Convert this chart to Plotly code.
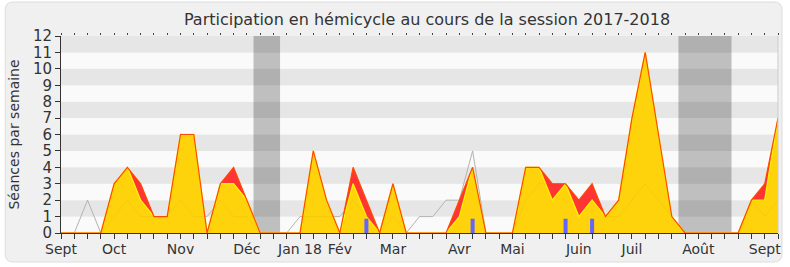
import plotly.graph_objects as go

# ---------------- data ----------------
weeks = list(range(55))
tick_weeks = [0, 4, 9, 14, 18, 21, 25, 30, 34, 39, 43, 48, 53]
tick_labels = ["Sept", "Oct", "Nov", "Déc", "Jan 18", "Fév", "Mar", "Avr", "Mai", "Juin", "Juil", "Août", "Sept"]

presences = [0, 0, 0, 0, 3, 4, 3, 1, 1, 6, 6, 0, 3, 4, 2, 0, 0, 0, 0, 5, 2, 0, 4, 2, 0, 3, 0, 0,
             0, 0, 2, 4, 0, 0, 0, 4, 4, 3, 3, 2, 3, 1, 2, 7, 11, 6, 1, 0, 0, 0, 0, 0, 2, 3, 7]
participations = [0, 0, 0, 0, 3, 4, 2, 1, 1, 6, 6, 0, 3, 3, 2, 0, 0, 0, 0, 5, 2, 0, 3, 1, 0, 3, 0, 0,
                   0, 0, 1, 4, 0, 0, 0, 4, 4, 2, 3, 1, 2, 1, 2, 7, 11, 6, 1, 0, 0, 0, 0, 0, 2, 2, 7]
mediane = [0, 0, 2, 0, 1, 2, 1, 1, 1, 2, 1, 1, 2, 1, 1, 0, 0, 0, 1, 1, 1, 1, 2, 1, 0, 1, 0, 1,
           1, 2, 2, 5, 0, 0, 0, 2, 3, 3, 3, 2, 2, 1, 1, 2, 3, 2, 1, 0, 0, 0, 0, 0, 2, 1, 2]
questions_weeks = [23, 31, 38, 40]
questions_values = [0.87, 0.87, 0.87, 0.87]
vacances = [(14.5, 16.5), (46.5, 50.5)]

# ---------------- layout constants ----------------
W, H = 790, 267
ML, MR, MT, MB = 61, 9, 36, 34
PW, PH = W - ML - MR, H - MT - MB
FONT = "DejaVu Sans"


def px2paper(px, py):
    return (px - ML) / PW, (H - MB - py) / PH


fig = go.Figure()

# median (grey line, below the fills)
fig.add_trace(go.Scatter(x=weeks, y=mediane, mode="lines",
                         line=dict(color="#bbbbbb", width=1), showlegend=False,
                         hoverinfo="skip"))
# presences (red area)
fig.add_trace(go.Scatter(x=weeks, y=presences, mode="lines", fill="tozeroy",
                         fillcolor="#ff3434",
                         line=dict(color="rgba(0,0,0,0)", width=0), showlegend=False,
                         hoverinfo="skip"))
# participations (yellow area)
fig.add_trace(go.Scatter(x=weeks, y=participations, mode="lines", fill="tozeroy",
                         fillcolor="#ffd30c",
                         line=dict(color="#fff000", width=1.4), showlegend=False,
                         hoverinfo="skip"))
# median seen faintly through the fills
fig.add_trace(go.Scatter(x=weeks, y=mediane, mode="lines",
                         line=dict(color="rgba(120,100,0,0.07)", width=1), showlegend=False,
                         hoverinfo="skip"))
# presences outline on top
fig.add_trace(go.Scatter(x=weeks, y=presences, mode="lines",
                         line=dict(color="#ff4a00", width=1.2), showlegend=False,
                         hoverinfo="skip"))
# questions (blue bars as thick vertical segments)
qx, qy = [], []
for wk, v in zip(questions_weeks, questions_values):
    qx += [wk, wk, None]
    qy += [0, v, None]
fig.add_trace(go.Scatter(x=qx, y=qy, mode="lines",
                         line=dict(color="#6464ff", width=4), showlegend=False,
                         hoverinfo="skip"))
# dummy trace for top tick axis
fig.add_trace(go.Scatter(x=[], y=[], xaxis="x2", showlegend=False))

shapes = []
# rounded frame
x0p, x1p, y0p, y1p, r = 5, 785, 2, 262, 8
def P(px, py):
    a, b = px2paper(px, py)
    return f"{a:.5f},{b:.5f}"
path = (f"M {P(x0p + r, y0p)} L {P(x1p - r, y0p)} Q {P(x1p, y0p)} {P(x1p, y0p + r)} "
        f"L {P(x1p, y1p - r)} Q {P(x1p, y1p)} {P(x1p - r, y1p)} "
        f"L {P(x0p + r, y1p)} Q {P(x0p, y1p)} {P(x0p, y1p - r)} "
        f"L {P(x0p, y0p + r)} Q {P(x0p, y0p)} {P(x0p + r, y0p)} Z")
shapes.append(dict(type="path", path=path, xref="paper", yref="paper", layer="below",
                   fillcolor="#f0f0f0", line=dict(color="#dddddd", width=1)))
# horizontal stripes
for i in range(12):
    shapes.append(dict(type="rect", xref="paper", yref="y", x0=0, x1=1, y0=i, y1=i + 1,
                       layer="below", line=dict(width=0),
                       fillcolor="#e6e6e6" if i % 2 == 1 else "#fafafa"))
# holidays
for a, b in vacances:
    shapes.append(dict(type="rect", xref="x", yref="paper", x0=a, x1=b, y0=0, y1=1,
                       layer="below", line=dict(width=0), fillcolor="rgba(0,0,0,0.235)"))
# right border
shapes.append(dict(type="line", xref="paper", yref="paper", x0=1, x1=1, y0=0, y1=1,
                   line=dict(color="#cccccc", width=1)))

ticktext = []
for wk in weeks:
    ticktext.append(tick_labels[tick_weeks.index(wk)] if wk in tick_weeks else "")

fig.update_layout(
    width=W, height=H,
    margin=dict(l=ML, r=MR, t=MT, b=MB),
    paper_bgcolor="white",
    plot_bgcolor="rgba(0,0,0,0)",
    shapes=shapes,
    font=dict(family=FONT, color="#333333"),
    title=dict(text="Participation en hémicycle au cours de la session 2017-2018",
               x=427 / W, xanchor="center", y=1 - 19 / H, yanchor="middle",
               font=dict(family=FONT, size=16, color="#333333")),
    xaxis=dict(range=[0, 54], tickmode="array", tickvals=weeks, ticktext=ticktext,
               ticks="outside", ticklen=5, tickcolor="#333333", showgrid=False,
               zeroline=False, showline=True, linecolor="#333333", linewidth=1,
               ticklabelstandoff=-2,
               tickfont=dict(family=FONT, size=14, color="#333333")),
    xaxis2=dict(range=[0, 54], overlaying="x", side="top", tickmode="array",
                tickvals=weeks, ticks="outside", ticklen=2, tickcolor="#444444",
                showticklabels=False, showgrid=False, zeroline=False, showline=False),
    yaxis=dict(range=[0, 12], tickmode="array", tickvals=list(range(13)),
               ticks="outside", ticklen=5, tickcolor="#333333", showgrid=False,
               zeroline=False, showline=True, linecolor="#333333", linewidth=1,
               tickfont=dict(family=FONT, size=15, color="#333333"),
               title=dict(text="Séances par semaine", standoff=10,
                          font=dict(family=FONT, size=14, color="#333333"))),
    showlegend=False,
)

fig.write_html("out.html")
